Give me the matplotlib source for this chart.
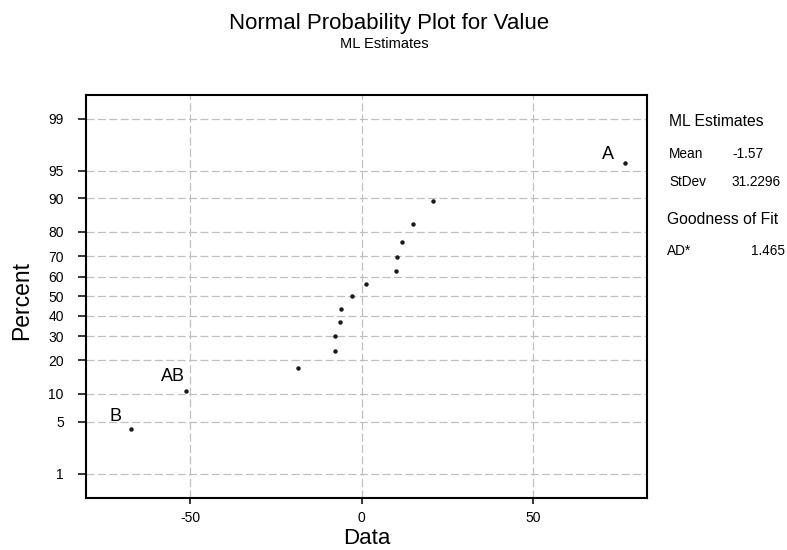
import matplotlib
matplotlib.use('Agg')
import matplotlib.pyplot as plt
import numpy as np
from statistics import NormalDist

# ---- data ----
data_values = [-67.3, -51.2, -18.7, -7.9, -7.7, -6.3, -6.0, -2.8, 1.3, 9.9, 10.2, 11.8, 14.9, 20.9, 76.8]
percent_values = [4.1, 10.7, 17.2, 23.8, 30.3, 36.9, 43.4, 50.0, 56.6, 63.1, 69.7, 76.2, 82.8, 89.3, 95.9]
label_index = [0, 1, 14]
label_text = ['B', 'AB', 'A']
y_ticks = [1, 5, 10, 20, 30, 40, 50, 60, 70, 80, 90, 95, 99]
x_ticks = [-50, 0, 50]
stat_names = ['Mean', 'StDev']
stat_values = ['-1.57', '31.2296']
gof_name = 'AD*'
gof_value = '1.465'

plt.rcParams['font.family'] = ['Liberation Sans', 'DejaVu Sans']
plt.rcParams['lines.scale_dashes'] = False

W, H = 787, 550
fig = plt.figure(figsize=(W / 100, H / 100), dpi=100)
fig.patch.set_facecolor('white')

def fx(px):
    return px / W

def fy(py):
    return 1 - py / H

ax = fig.add_axes([fx(86), fy(498), fx(647) - fx(86), fy(95) - fy(498)])

_nd = NormalDist()
_fwd_v = np.vectorize(lambda v: _nd.inv_cdf(v / 100.0) if np.isfinite(v) else np.nan, otypes=[float])
_inv_v = np.vectorize(lambda v: _nd.cdf(v) * 100.0 if np.isfinite(v) else np.nan, otypes=[float])

def _fwd(p):
    p = np.clip(np.asarray(p, dtype=float), 1e-9, 100 - 1e-9)
    return _fwd_v(p)

def _inv(z):
    z = np.asarray(z, dtype=float)
    return _inv_v(z)

ax.set_yscale('function', functions=(_fwd, _inv))

ax.plot(data_values, percent_values, linestyle='none', marker='o', markersize=2.2,
        color='#1a1a1a', zorder=3)

offsets = {'B': (-11.0, 8.9), 'AB': (-9.4, 10.1), 'A': (-12.5, 6.8)}
for i, t in zip(label_index, label_text):
    ax.annotate(t, (data_values[i], percent_values[i]), xytext=offsets[t],
                textcoords='offset points', ha='center', va='center', fontsize=13)

ax.set_xlim(-80.45, 83.25)
ax.set_ylim(_nd.cdf(-2.645) * 100, _nd.cdf(2.637) * 100)
ax.set_xticks(x_ticks)
ax.set_xticklabels([str(v) for v in x_ticks], fontsize=10)
ax.set_yticks(y_ticks)
ax.set_yticklabels([str(v) for v in y_ticks], fontsize=10)
ax.yaxis.set_minor_locator(matplotlib.ticker.NullLocator())
ax.xaxis.set_minor_locator(matplotlib.ticker.NullLocator())

ax.grid(True, which='major', color='#c0c0c0', linestyle=(0, (5.8, 2.4)), linewidth=0.9, zorder=0)
ax.set_axisbelow(True)
for s in ax.spines.values():
    s.set_linewidth(1.5)
    s.set_color('black')
ax.tick_params(axis='y', direction='out', length=5.5, width=1.1, pad=10.5, colors='black')
ax.tick_params(axis='x', direction='out', length=4, width=1.1, pad=5.5, colors='black')

# titles and axis labels
fig.text(fx(389), fy(28.5), 'Normal Probability Plot for Value', ha='center', va='baseline', fontsize=16)
fig.text(fx(384), fy(48.5), 'ML Estimates', ha='center', va='baseline', fontsize=10.5)
fig.text(fx(366.5), fy(544), 'Data', ha='center', va='baseline', fontsize=16)
fig.text(fx(33), fy(300.8), 'Percent', ha='right', va='center', rotation=90, fontsize=16.5)

# right side panel
fig.text(fx(669), fy(126.5), 'ML Estimates', ha='left', va='baseline', fontsize=11.3)
for k, (n, v) in enumerate(zip(stat_names, stat_values)):
    yb = [158.0, 186.0][k]
    fig.text(fx(669), fy(yb), n, ha='left', va='baseline', fontsize=9.8)
    fig.text(fx(732), fy(yb), v, ha='left', va='baseline', fontsize=9.8)
fig.text(fx(667), fy(223.5), 'Goodness of Fit', ha='left', va='baseline', fontsize=11.3)
fig.text(fx(667), fy(255), gof_name, ha='left', va='baseline', fontsize=9.8)
fig.text(fx(785), fy(255), gof_value, ha='right', va='baseline', fontsize=9.8)

fig.savefig('out.png', dpi=100, facecolor='white')
